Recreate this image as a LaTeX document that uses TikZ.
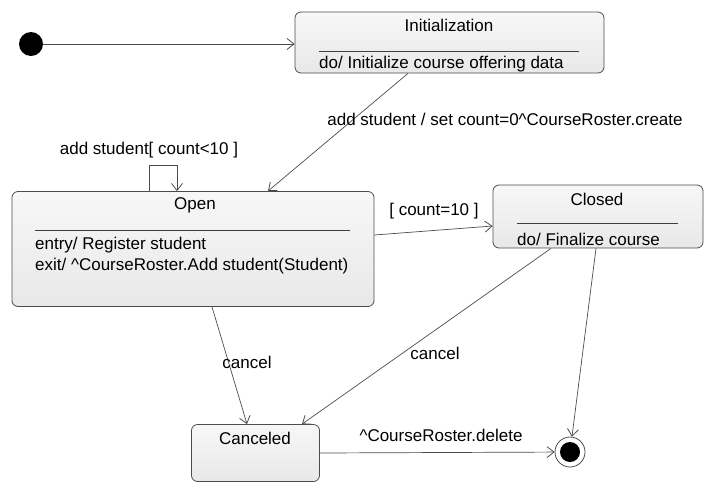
\documentclass[tikz,border=0pt]{standalone}
\usepackage{fontspec}
\setmainfont{Liberation Sans}
\usetikzlibrary{arrows.meta,calc}
\begin{document}
\begin{tikzpicture}[x=1pt,y=-1pt,
  state/.style={draw=black!70,line width=0.8pt,rounded corners=6pt,top color=black!3,bottom color=black!9,inner sep=0pt},
  txt/.style={inner sep=0pt,font=\fontsize{17}{19}\selectfont},
  ltxt/.style={txt,anchor=west},
  sep/.style={draw=black!75,line width=0.7pt},
  tr/.style={draw=black!70,line width=0.7pt,-{Straight Barb[length=7pt,width=11pt,line width=0.8pt]}}]
\useasboundingbox (0,0) rectangle (715,496);
% initial and final
\node[circle,fill=black,minimum size=24pt,inner sep=0pt] (start) at (31,44) {};
\node[circle,draw=black!70,line width=0.8pt,fill=white,minimum size=30pt,inner sep=0pt] (final) at (570,452) {};
\node[circle,fill=black,minimum size=20pt,inner sep=0pt] (finalin) at (final.center) {};
% states
\node[state,minimum width=309pt,minimum height=61pt] (init) at (449.5,42.5) {};
\node[txt] (initT) at (449,25) {Initialization};
\draw[sep] (319,51) -- (579,51);
\node[ltxt] (initD) at (319,64) {do/ Initialize course offering data};

\node[state,minimum width=362pt,minimum height=115pt] (open) at (193,249) {};
\node[txt] (openT) at (195,205) {Open};
\draw[sep] (35,230) -- (350,230);
\node[ltxt] (openE) at (35,245) {entry/ Register student};
\node[ltxt] (openX) at (35,266) {exit/ \textasciicircum CourseRoster.Add student(Student)};

\node[state,minimum width=210pt,minimum height=63pt] (closed) at (598,216.5) {};
\node[txt] (closedT) at (597,199) {Closed};
\draw[sep] (517,223) -- (678,223);
\node[ltxt] (closedD) at (517,239) {do/ Finalize course};

\node[state,minimum width=128pt,minimum height=57pt] (canc) at (255.5,453) {};
\node[txt] (cancT) at (255,438) {Canceled};

% transitions
\draw[tr] (start) -- (start -| init.west);
\draw[tr] ([xshift=-41.5pt]init.south) -- ([xshift=75pt]open.north);
\node[txt] (l1) at (505,119) {add student / set count=0\textasciicircum CourseRoster.create};
\draw[tr] ([xshift=-44pt]open.north) -- ++(0,-26) -| ([xshift=-16pt]open.north);
\node[txt] (l2) at (149,150) {add student[ count<10 ]};
\draw[tr] ([yshift=14pt]open.east) -- ([yshift=-9.5pt]closed.west);
\node[txt] (l3) at (434,211) {[ count=10 ]};
\draw[tr] ([xshift=-2pt]closed.south) -- (final);
\draw[tr] ([xshift=-47pt]closed.south) -- ([xshift=46.5pt]canc.north);
\node[txt] (l4) at (435,353) {cancel};
\draw[tr] ([xshift=19pt]open.south) -- ([xshift=-8.5pt]canc.north);
\node[txt] (l5) at (247,362) {cancel};
\draw[tr] (canc.east) -- (final);
\node[txt] (l6) at (441,435) {\textasciicircum CourseRoster.delete};
\end{tikzpicture}
\end{document}
